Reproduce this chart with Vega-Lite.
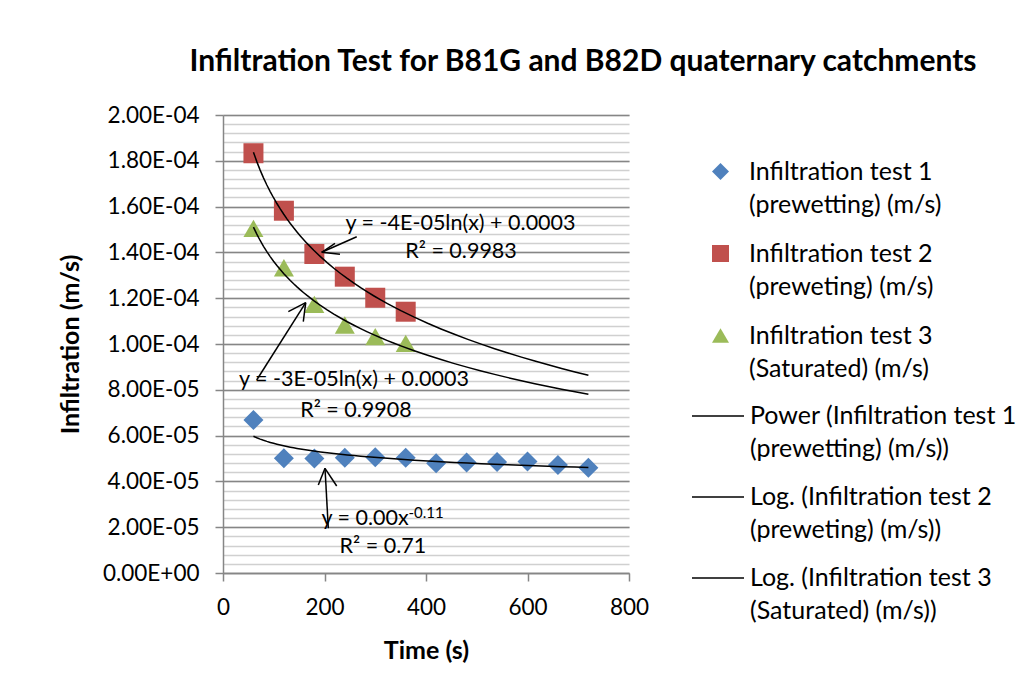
{
  "$schema": "https://vega.github.io/schema/vega-lite/v6.json",
  "width": 406,
  "height": 458,
  "autosize": {"type": "none"},
  "padding": {"left": 223, "top": 115, "right": 407, "bottom": 125},
  "background": "white",
  "config": {"font": "Lato", "view": {"stroke": null}, "style": {"guide-label": {"lineHeight": 33}}},
  "title": {
    "text": "Infiltration Test for B81G and B82D quaternary catchments",
    "fontSize": 30, "fontWeight": "bold", "font": "Lato", "color": "black",
    "anchor": "middle", "frame": "group", "dx": 157, "offset": 27
  },
  "datasets": {
    "obs": [
      {"series": "Infiltration test 1 (prewetting) (m/s)", "trend": "Power (Infiltration test 1 (prewetting) (m/s))", "Time": 60, "Inf": 0.0000668},
      {"series": "Infiltration test 1 (prewetting) (m/s)", "trend": "Power (Infiltration test 1 (prewetting) (m/s))", "Time": 120, "Inf": 0.0000501},
      {"series": "Infiltration test 1 (prewetting) (m/s)", "trend": "Power (Infiltration test 1 (prewetting) (m/s))", "Time": 180, "Inf": 0.0000500},
      {"series": "Infiltration test 1 (prewetting) (m/s)", "trend": "Power (Infiltration test 1 (prewetting) (m/s))", "Time": 240, "Inf": 0.0000503},
      {"series": "Infiltration test 1 (prewetting) (m/s)", "trend": "Power (Infiltration test 1 (prewetting) (m/s))", "Time": 300, "Inf": 0.0000506},
      {"series": "Infiltration test 1 (prewetting) (m/s)", "trend": "Power (Infiltration test 1 (prewetting) (m/s))", "Time": 360, "Inf": 0.0000503},
      {"series": "Infiltration test 1 (prewetting) (m/s)", "trend": "Power (Infiltration test 1 (prewetting) (m/s))", "Time": 420, "Inf": 0.0000479},
      {"series": "Infiltration test 1 (prewetting) (m/s)", "trend": "Power (Infiltration test 1 (prewetting) (m/s))", "Time": 480, "Inf": 0.0000483},
      {"series": "Infiltration test 1 (prewetting) (m/s)", "trend": "Power (Infiltration test 1 (prewetting) (m/s))", "Time": 540, "Inf": 0.0000485},
      {"series": "Infiltration test 1 (prewetting) (m/s)", "trend": "Power (Infiltration test 1 (prewetting) (m/s))", "Time": 600, "Inf": 0.0000487},
      {"series": "Infiltration test 1 (prewetting) (m/s)", "trend": "Power (Infiltration test 1 (prewetting) (m/s))", "Time": 660, "Inf": 0.0000472},
      {"series": "Infiltration test 1 (prewetting) (m/s)", "trend": "Power (Infiltration test 1 (prewetting) (m/s))", "Time": 720, "Inf": 0.0000460},
      {"series": "Infiltration test 2 (preweting) (m/s)", "trend": "Log. (Infiltration test 2 (preweting) (m/s))", "Time": 60, "Inf": 0.0001833},
      {"series": "Infiltration test 2 (preweting) (m/s)", "trend": "Log. (Infiltration test 2 (preweting) (m/s))", "Time": 120, "Inf": 0.0001582},
      {"series": "Infiltration test 2 (preweting) (m/s)", "trend": "Log. (Infiltration test 2 (preweting) (m/s))", "Time": 180, "Inf": 0.0001393},
      {"series": "Infiltration test 2 (preweting) (m/s)", "trend": "Log. (Infiltration test 2 (preweting) (m/s))", "Time": 240, "Inf": 0.0001294},
      {"series": "Infiltration test 2 (preweting) (m/s)", "trend": "Log. (Infiltration test 2 (preweting) (m/s))", "Time": 300, "Inf": 0.0001202},
      {"series": "Infiltration test 2 (preweting) (m/s)", "trend": "Log. (Infiltration test 2 (preweting) (m/s))", "Time": 360, "Inf": 0.0001141},
      {"series": "Infiltration test 3 (Saturated) (m/s)", "trend": "Log. (Infiltration test 3 (Saturated) (m/s))", "Time": 60, "Inf": 0.0001505},
      {"series": "Infiltration test 3 (Saturated) (m/s)", "trend": "Log. (Infiltration test 3 (Saturated) (m/s))", "Time": 120, "Inf": 0.0001333},
      {"series": "Infiltration test 3 (Saturated) (m/s)", "trend": "Log. (Infiltration test 3 (Saturated) (m/s))", "Time": 180, "Inf": 0.0001173},
      {"series": "Infiltration test 3 (Saturated) (m/s)", "trend": "Log. (Infiltration test 3 (Saturated) (m/s))", "Time": 240, "Inf": 0.0001083},
      {"series": "Infiltration test 3 (Saturated) (m/s)", "trend": "Log. (Infiltration test 3 (Saturated) (m/s))", "Time": 300, "Inf": 0.0001032},
      {"series": "Infiltration test 3 (Saturated) (m/s)", "trend": "Log. (Infiltration test 3 (Saturated) (m/s))", "Time": 360, "Inf": 0.0001003}
    ],
    "notes": [
      {"Time": 468, "Inf": 0.0001524, "label": "y = -4E-05ln(x) + 0.0003"},
      {"Time": 469, "Inf": 0.0001402, "label": "R² = 0.9983"},
      {"Time": 258, "Inf": 0.0000843, "label": "y = -3E-05ln(x) + 0.0003"},
      {"Time": 262, "Inf": 0.0000707, "label": "R² = 0.9908"},
      {"Time": 280, "Inf": 0.0000236, "label": "y = 0.00x"},
      {"Time": 315, "Inf": 0.0000112, "label": "R² = 0.71"}
    ],
    "sup": [
      {"Time": 400, "Inf": 0.0000262, "label": "-0.11"}
    ],
    "arrows": [
      {"Time": 263.5, "Inf": 0.00014686, "Time2": 194.5, "Inf2": 0.00014005},
      {"Time": 194.5, "Inf": 0.00014005, "Time2": 220.7, "Inf2": 0.00014398},
      {"Time": 194.5, "Inf": 0.00014005, "Time2": 230.5, "Inf2": 0.00013918},
      {"Time": 66.4, "Inf": 0.00008428, "Time2": 163.0, "Inf2": 0.00011804},
      {"Time": 163.0, "Inf": 0.00011804, "Time2": 128.7, "Inf2": 0.00011411},
      {"Time": 163.0, "Inf": 0.00011804, "Time2": 158.2, "Inf2": 0.00010974},
      {"Time": 207.5, "Inf": 0.00001952, "Time2": 201.0, "Inf2": 0.00004572},
      {"Time": 201.0, "Inf": 0.00004572, "Time2": 187.8, "Inf2": 0.00003843},
      {"Time": 201.0, "Inf": 0.00004572, "Time2": 224.0, "Inf2": 0.00003799}
    ]
  },
  "resolve": {"axis": {"y": "independent"}},
  "layer": [
    {
      "data": {"name": "obs"},
      "mark": {"type": "point", "opacity": 0},
      "encoding": {
        "x": {"field": "Time", "type": "quantitative", "title": "Time (s)",
          "scale": {"domain": [0, 800], "nice": false},
          "axis": {
            "values": [0, 200, 400, 600, 800], "grid": false, "labelFlush": false,
            "domainColor": "#868686", "domainWidth": 1.5, "tickColor": "#868686", "tickSize": 8, "tickWidth": 1.5,
            "labelFontSize": 22.5, "labelColor": "black", "labelPadding": 15, "labelFont": "Lato",
            "titleFontSize": 25, "titleFontWeight": "bold", "titleColor": "black", "titlePadding": 20, "titleFont": "Lato"
          }
        },
        "y": {"field": "Inf", "type": "quantitative", "title": "Infiltration (m/s)",
          "scale": {"domain": [0, 0.0002], "nice": false},
          "axis": {
            "orient": "left", "domain": false, "ticks": false, "labels": false, "title": null,
            "grid": true, "gridColor": "#d0d0d0", "gridWidth": 1.5,
            "values": [0, 0.000004, 0.000008, 0.000012, 0.000016, 0.00002, 0.000024, 0.000028, 0.000032, 0.000036, 0.00004, 0.000044, 0.000048, 0.000052, 0.000056, 0.00006, 0.000064, 0.000068, 0.000072, 0.000076, 0.00008, 0.000084, 0.000088, 0.000092, 0.000096, 0.0001, 0.000104, 0.000108, 0.000112, 0.000116, 0.00012, 0.000124, 0.000128, 0.000132, 0.000136, 0.00014, 0.000144, 0.000148, 0.000152, 0.000156, 0.00016, 0.000164, 0.000168, 0.000172, 0.000176, 0.00018, 0.000184, 0.000188, 0.000192, 0.000196, 0.0002]
          }
        }
      }
    },
    {
      "data": {"name": "obs"},
      "mark": {"type": "point", "filled": true, "opacity": 1, "size": 400},
      "encoding": {
        "x": {"field": "Time", "type": "quantitative", "title": "Time (s)"},
        "y": {"field": "Inf", "type": "quantitative", "title": "Infiltration (m/s)",
          "axis": {
            "orient": "left", "values": [0, 0.00002, 0.00004, 0.00006, 0.00008, 0.0001, 0.00012, 0.00014, 0.00016, 0.00018, 0.0002],
            "grid": true, "gridColor": "#868686", "gridWidth": 1.5, "labelFlush": false,
            "domainColor": "#868686", "domainWidth": 1.5, "tickColor": "#868686", "tickSize": 8, "tickWidth": 1.5,
            "labelFontSize": 22.5, "labelColor": "black", "labelPadding": 16, "labelFont": "Lato",
            "labelExpr": "datum.value == 0 ? '0.00E+00' : (datum.value >= 0.0001 ? format(datum.value * 10000, '.2f') + 'E-04' : format(datum.value * 100000, '.2f') + 'E-05')",
            "titleFontSize": 25, "titleFontWeight": "bold", "titleColor": "black", "titlePadding": 19, "titleFont": "Lato"
          }
        },
        "color": {"field": "series", "type": "nominal",
          "scale": {
            "domain": ["Infiltration test 1 (prewetting) (m/s)", "Infiltration test 2 (preweting) (m/s)", "Infiltration test 3 (Saturated) (m/s)"],
            "range": ["#4F81BD", "#C0504D", "#9BBB59"]
          },
          "legend": {
            "title": null, "orient": "none", "legendX": 485, "legendY": 44, "padding": 0,
            "symbolSize": 290, "symbolStrokeWidth": 1.5,
            "labelFontSize": 25, "labelFont": "Lato", "labelColor": "black", "labelOffset": 16, "labelLimit": 500,
            "rowPadding": 23,
            "labelExpr": "[substring(datum.label, 0, indexof(datum.label, 'test') + 6), substring(datum.label, indexof(datum.label, 'test') + 7)]"
          }
        },
        "shape": {"field": "series", "type": "nominal",
          "scale": {
            "domain": ["Infiltration test 1 (prewetting) (m/s)", "Infiltration test 2 (preweting) (m/s)", "Infiltration test 3 (Saturated) (m/s)"],
            "range": ["diamond", "square", "triangle-up"]
          },
          "legend": {
            "title": null, "orient": "none", "legendX": 485, "legendY": 44, "padding": 0,
            "symbolSize": 290, "symbolStrokeWidth": 1.5,
            "labelFontSize": 25, "labelFont": "Lato", "labelColor": "black", "labelOffset": 16, "labelLimit": 500,
            "rowPadding": 23,
            "labelExpr": "[substring(datum.label, 0, indexof(datum.label, 'test') + 6), substring(datum.label, indexof(datum.label, 'test') + 7)]"
          }
        }
      }
    },
    {
      "data": {"name": "obs"},
      "transform": [
        {"filter": "datum.series == 'Infiltration test 1 (prewetting) (m/s)'"},
        {"regression": "Inf", "on": "Time", "method": "pow", "groupby": ["trend"], "extent": [60, 720]}
      ],
      "mark": {"type": "line", "color": "black", "strokeWidth": 1.5},
      "encoding": {
        "x": {"field": "Time", "type": "quantitative", "title": "Time (s)"},
        "y": {"field": "Inf", "type": "quantitative", "axis": null},
        "stroke": {"field": "trend", "type": "nominal",
          "scale": {
            "domain": ["Power (Infiltration test 1 (prewetting) (m/s))", "Log. (Infiltration test 2 (preweting) (m/s))", "Log. (Infiltration test 3 (Saturated) (m/s))"],
            "range": ["black", "black", "black"]
          },
          "legend": {
            "title": null, "orient": "none", "legendX": 468, "legendY": 274, "padding": 0,
            "symbolType": "stroke", "symbolSize": 2704, "symbolStrokeWidth": 1.5, "symbolStrokeColor": "black",
            "labelFontSize": 25, "labelFont": "Lato", "labelColor": "black", "labelOffset": 5, "labelLimit": 500,
            "rowPadding": 8,
            "labelExpr": "[substring(datum.label, 0, indexof(datum.label, 'test') + 6), substring(datum.label, indexof(datum.label, 'test') + 7)]"
          }
        }
      }
    },
    {
      "data": {"name": "obs"},
      "transform": [
        {"filter": "datum.series != 'Infiltration test 1 (prewetting) (m/s)'"},
        {"regression": "Inf", "on": "Time", "method": "log", "groupby": ["trend"], "extent": [60, 720]}
      ],
      "mark": {"type": "line", "color": "black", "strokeWidth": 1.5},
      "encoding": {
        "x": {"field": "Time", "type": "quantitative", "title": "Time (s)"},
        "y": {"field": "Inf", "type": "quantitative", "axis": null},
        "stroke": {"field": "trend", "type": "nominal"}
      }
    },
    {
      "data": {"name": "arrows"},
      "mark": {"type": "rule", "color": "black", "strokeWidth": 1.5},
      "encoding": {
        "x": {"field": "Time", "type": "quantitative", "title": "Time (s)"},
        "y": {"field": "Inf", "type": "quantitative", "axis": null},
        "x2": {"field": "Time2"},
        "y2": {"field": "Inf2"}
      }
    },
    {
      "data": {"name": "notes"},
      "mark": {"type": "text", "font": "Lato", "fontSize": 21.5, "color": "black", "align": "center", "baseline": "middle"},
      "encoding": {
        "x": {"field": "Time", "type": "quantitative", "title": "Time (s)"},
        "y": {"field": "Inf", "type": "quantitative", "axis": null},
        "text": {"field": "label"}
      }
    },
    {
      "data": {"name": "sup"},
      "mark": {"type": "text", "font": "Lato", "fontSize": 15, "color": "black", "align": "center", "baseline": "middle"},
      "encoding": {
        "x": {"field": "Time", "type": "quantitative", "title": "Time (s)"},
        "y": {"field": "Inf", "type": "quantitative", "axis": null},
        "text": {"field": "label"}
      }
    }
  ]
}
